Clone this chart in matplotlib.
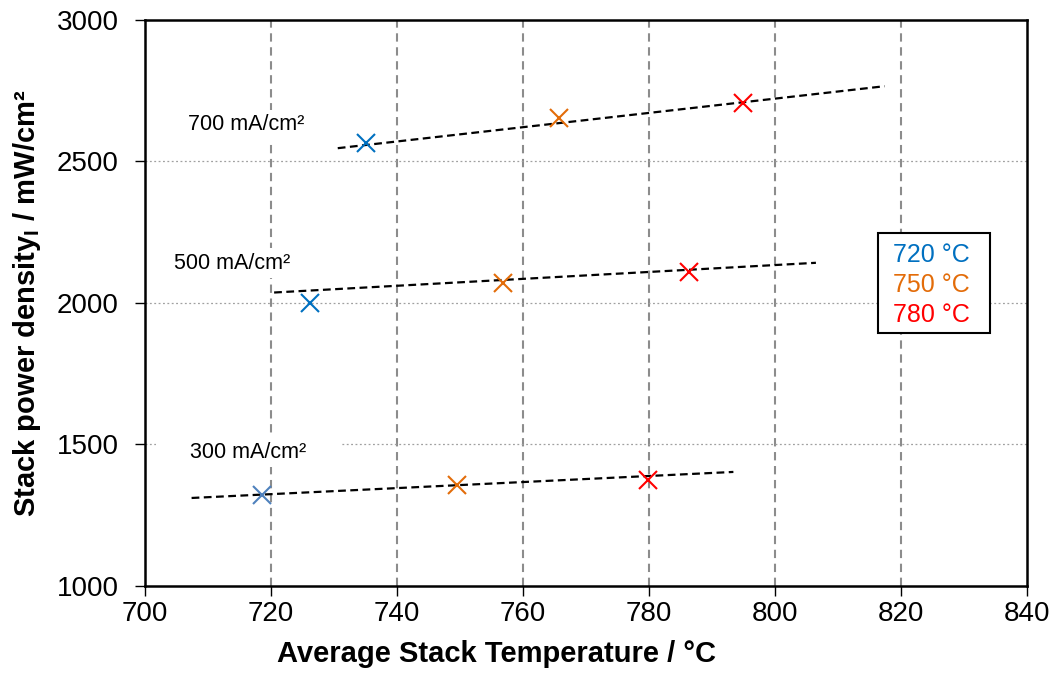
import matplotlib
matplotlib.use("Agg")
import matplotlib.pyplot as plt
from matplotlib.patches import Rectangle

plt.rcParams["font.family"] = ["Liberation Sans", "DejaVu Sans"]

# measured points (avg stack temperature, power density)
temp_300 = [718.6, 749.6, 779.9]
power_300 = [1321, 1356, 1374]
temp_500 = [726.2, 756.9, 786.3]
power_500 = [2000, 2071, 2111]
temp_700 = [735.1, 765.7, 794.9]
power_700 = [2567, 2653, 2706]

# trend lines (start / end)
trend_300_x = [707.4, 793.4]
trend_300_y = [1311, 1403]
trend_500_x = [720.5, 806.5]
trend_500_y = [2037, 2142]
trend_700_x = [730.6, 817.4]
trend_700_y = [2547, 2766]

current_labels = ["300 mA/cm²", "500 mA/cm²", "700 mA/cm²"]
label_x = [716.4, 713.8, 716.1]
label_y = [1473, 2141, 2629]

furnace_labels = ["720 °C", "750 °C", "780 °C"]
colors_300 = ["#4F81BD", "#E36C09", "#FF0000"]
colors = ["#0070C0", "#E36C09", "#FF0000"]

x_ticks = [700, 720, 740, 760, 780, 800, 820, 840]
y_ticks = [1000, 1500, 2000, 2500, 3000]

fig = plt.figure(figsize=(10.52, 6.73), dpi=100)
ax = fig.add_axes([0.1378, 0.1293, 0.8384, 0.841])

# grid
for xv in x_ticks[1:-1]:
    ax.axvline(xv, color="#8c8c8c", lw=1.5, ls=(0, (4, 2.7)), zorder=0)
for yv in y_ticks[1:-1]:
    ax.axhline(yv, color="#a0a0a0", lw=0.9, ls=(0, (1.5, 2)), zorder=0)

# trend lines
for tx, ty in [(trend_300_x, trend_300_y), (trend_500_x, trend_500_y), (trend_700_x, trend_700_y)]:
    ax.plot(tx, ty, color="black", lw=1.6, ls=(0, (3.5, 2)), zorder=3)

# markers
series = [(temp_300, power_300, colors_300), (temp_500, power_500, colors), (temp_700, power_700, colors)]
for tx, py, cols in series:
    for x, y, c in zip(tx, py, cols):
        ax.plot(x, y, marker="x", ms=13, mew=1.5, color=c, ls="none", zorder=4)

# current density labels (white box hides grid behind them)
for txt, x, y in zip(current_labels, label_x, label_y):
    ax.text(x, y, "     " + txt + "     ", fontsize=15.5, ha="center", va="center", zorder=2,
            bbox=dict(facecolor="white", edgecolor="none", pad=3))

ax.set_xlim(700, 840)
ax.set_ylim(1000, 3000)
ax.set_xticks(x_ticks)
ax.set_yticks(y_ticks)
ax.tick_params(axis="both", labelsize=20, length=7, width=1, direction="out")
ax.tick_params(axis="y", pad=12)
ax.tick_params(axis="x", pad=4)
for sp in ax.spines.values():
    sp.set_linewidth(1.8)
    sp.set_color("black")

ax.set_xlabel("Average Stack Temperature / °C", fontsize=21, fontweight="bold")
ax.xaxis.set_label_coords(0.398, -0.095)
ax.set_ylabel(r"Stack power density$_\mathregular{I}$ / mW/cm²", fontsize=21, fontweight="bold", labelpad=10)

# legend box with coloured text
ax.add_patch(Rectangle((0.831, 0.447), 0.127, 0.177, transform=ax.transAxes,
                       facecolor="white", edgecolor="black", lw=1.5, zorder=5))
for i, (lab, c) in enumerate(zip(furnace_labels, colors)):
    ax.text(0.848, 0.585 - i * 0.053, lab, color=c, fontsize=18, ha="left", va="center",
            transform=ax.transAxes, zorder=6)

fig.savefig("out.png", dpi=100)
